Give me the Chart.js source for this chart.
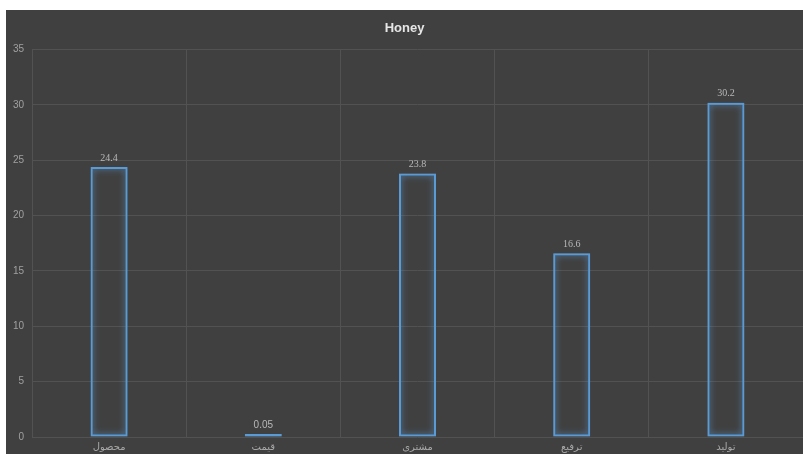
<!DOCTYPE html>
<html>
<head>
<meta charset="utf-8">
<script src="https://cdn.jsdelivr.net/npm/chart.js@4/dist/chart.umd.min.js"></script>
<style>
  html, body { margin: 0; padding: 0; background: #ffffff; }
  #wrap { position: absolute; left: 6px; top: 10px; width: 797px; height: 444px; background: #404040; }
</style>
</head>
<body>
<div id="wrap"><canvas id="honey-chart"></canvas></div>
<script>
// DATA
var categories = ["محصول", "قیمت", "مشتری", "ترفیع", "تولید"];
var honeyValues = [24.4, 0.05, 23.8, 16.6, 30.2];
var yTicks = [0, 5, 10, 15, 20, 25, 30, 35];

// value labels above bars
var valueLabels = {
    id: 'valueLabels',
    afterDatasetsDraw(chart) {
        var ctx = chart.ctx;
        var meta = chart.getDatasetMeta(0);
        ctx.save();
        ctx.fillStyle = '#b8b8b8';
        ctx.textAlign = 'center';
        ctx.textBaseline = 'bottom';
        meta.data.forEach((bar, i) => {
            ctx.font = i === 1 ? '10px "Liberation Sans"' : '10px "Liberation Serif"';
            ctx.fillText(String(honeyValues[i]), bar.x, bar.y - 4);
        });
        ctx.restore();
    }
};

// soft blue glow round the bar outlines
var barGlow = {
    id: 'barGlow',
    beforeDatasetsDraw(chart) {
        chart.ctx.save();
        chart.ctx.shadowColor = 'rgba(91, 155, 213, 1)';
        chart.ctx.shadowBlur = 6;
    },
    afterDatasetsDraw(chart) {
        chart.ctx.restore();
    }
};

var ctx1 = document.getElementById('honey-chart').getContext('2d');
var honeyChart = new Chart(ctx1, {
    type: "bar",
    data: {
        labels: categories,
        datasets: [{
            label: "Honey",
            data: honeyValues,
            backgroundColor: "rgba(0, 0, 0, 0)",
            borderColor: "#5b9bd5",
            borderWidth: 2,
            borderSkipped: false,
            minBarLength: 3,
            categoryPercentage: 1,
            barPercentage: 0.24
        }]
    },
    options: {
        responsive: true,
        maintainAspectRatio: false,
        animation: false,
        layout: { padding: { top: 0, right: 0, bottom: 0, left: 0 } },
        plugins: {
            legend: { display: false },
            tooltip: { enabled: false },
            title: {
                display: true,
                text: "Honey",
                color: "#e6e6e6",
                font: { family: '"Liberation Sans"', size: 13, weight: 'bold' },
                padding: { top: 11, bottom: 13 }
            }
        },
        scales: {
            x: {
                grid: { color: "#525252", lineWidth: 1, drawTicks: false },
                border: { display: false },
                ticks: {
                    color: "#a8a8a8",
                    font: { family: '"DejaVu Sans"', size: 10 },
                    padding: 4,
                    maxRotation: 0
                },
                afterFit(scale) { scale.height = 17; }
            },
            y: {
                min: 0,
                max: 35,
                afterBuildTicks(scale) { scale.ticks = yTicks.map(v => ({ value: v })); },
                grid: { color: "#525252", lineWidth: 1, drawTicks: false },
                border: { display: false },
                ticks: {
                    color: "#a0a0a0",
                    font: { family: '"Liberation Sans"', size: 10 },
                    padding: 8
                },
                afterFit(scale) { scale.width = 26; }
            }
        }
    },
    plugins: [barGlow, valueLabels]
});
</script>
</body>
</html>
